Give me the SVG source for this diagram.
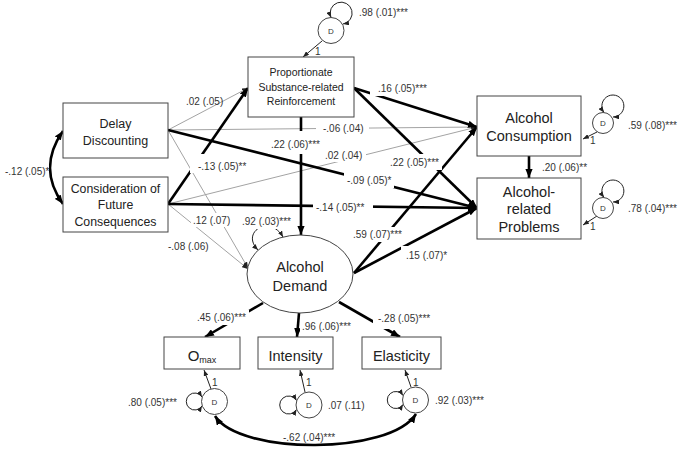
<svg xmlns="http://www.w3.org/2000/svg" width="683" height="449" viewBox="0 0 683 449">
<style>
.box{fill:#fff;stroke:#444;stroke-width:1}
.thk{fill:none;stroke:#000;stroke-width:2.6}
.thn{fill:none;stroke:#a3a3a3;stroke-width:1}
.ln{fill:none;stroke:#222;stroke-width:1}
.bg{fill:#fff}
.lbl{font-family:"Liberation Sans",Arial,sans-serif;font-size:10px;fill:#333}
.nt{font-family:"Liberation Sans",Arial,sans-serif;fill:#222;text-anchor:middle}
.d{font-family:"Liberation Sans",Arial,sans-serif;font-size:8px;fill:#333;text-anchor:middle}
</style>
<defs>
<marker id="ab" viewBox="0 0 10 8" refX="10" refY="4" markerWidth="9" markerHeight="7.2" markerUnits="userSpaceOnUse" orient="auto-start-reverse"><path d="M0,0L10,4L0,8z" fill="#000"/></marker>
<marker id="as" viewBox="0 0 10 8" refX="10" refY="4" markerWidth="6" markerHeight="4.8" markerUnits="userSpaceOnUse" orient="auto-start-reverse"><path d="M0,0L10,4L0,8z" fill="#222"/></marker>
</defs>
<rect width="683" height="449" fill="#fff"/>
<g id="connectors">
<path class="thn" d="M168,130 L248,88" marker-end="url(#as)"/>
<path class="thn" d="M168,130 L477,127" marker-end="url(#as)"/>
<path class="thn" d="M168,130 L248,268" marker-end="url(#as)"/>
<path class="thn" d="M168,204 L477,127" marker-end="url(#as)"/>
<path class="thn" d="M168,204 L248,269" marker-end="url(#as)"/>
<path class="thk" d="M168,204 L248,88" marker-end="url(#ab)"/>
<path class="thk" d="M168,130 L477,208" marker-end="url(#ab)"/>
<path class="thk" d="M168,204 L477,208" marker-end="url(#ab)"/>
<path class="thk" d="M354,88 L477,127" marker-end="url(#ab)"/>
<path class="thk" d="M354,88 L477,208" marker-end="url(#ab)"/>
<path class="thk" d="M301,117 L301,235" marker-end="url(#ab)"/>
<path class="thk" d="M354,273 L477,127" marker-end="url(#ab)"/>
<path class="thk" d="M354,273 L477,208" marker-end="url(#ab)"/>
<path class="thk" d="M529,156 L529,178" marker-end="url(#ab)"/>
<path class="thk" d="M263,303 L205,337" marker-end="url(#ab)"/>
<path class="thk" d="M299,313 L297,337" marker-end="url(#ab)"/>
<path class="thk" d="M339,302 L400,337" marker-end="url(#ab)"/>
<path class="thk" d="M63,131 Q37,168 63,204" marker-start="url(#ab)" marker-end="url(#ab)"/>
<path class="thk" d="M215,416 C240,455 390,455 416,414" marker-start="url(#ab)" marker-end="url(#ab)"/>
<path class="ln" d="M322,41 L303,57" marker-end="url(#as)"/>
<path class="ln" d="M597,132 L583,139" marker-end="url(#as)"/>
<path class="ln" d="M597,216 L583,225" marker-end="url(#as)"/>
<path class="ln" d="M211,389 L204,370" marker-end="url(#as)"/>
<path class="ln" d="M305,392 L300,370" marker-end="url(#as)"/>
<path class="ln" d="M411,387 L405,370" marker-end="url(#as)"/>
<path class="ln" d="M258,250 C240,232 270,214 283,237" marker-start="url(#as)" marker-end="url(#as)"/>
</g>
<g id="prop"><rect class="box" x="248" y="57" width="106" height="60"/>
<text class="nt" font-size="10.5" x="301" y="76">Proportionate</text>
<text class="nt" font-size="10.5" x="301" y="90.5">Substance-related</text>
<text class="nt" font-size="10.5" x="301" y="105">Reinforcement</text></g>
<g id="delay"><rect class="box" x="63" y="103" width="105" height="55"/>
<text class="nt" font-size="12.5" x="115.5" y="127.5">Delay</text>
<text class="nt" font-size="12.5" x="115.5" y="144.5">Discounting</text></g>
<g id="cfc"><rect class="box" x="63" y="177" width="105" height="55"/>
<text class="nt" font-size="12.3" x="115.5" y="192.5">Consideration of</text>
<text class="nt" font-size="12.3" x="115.5" y="209">Future</text>
<text class="nt" font-size="12.3" x="115.5" y="225.5">Consequences</text></g>
<g id="consumption"><rect class="box" x="477" y="96" width="104" height="60"/>
<text class="nt" font-size="14.5" x="529" y="122.5">Alcohol</text>
<text class="nt" font-size="14.5" x="529" y="141">Consumption</text></g>
<g id="problems"><rect class="box" x="477" y="178" width="104" height="61"/>
<text class="nt" font-size="14.5" x="529" y="196.5">Alcohol-</text>
<text class="nt" font-size="14.5" x="529" y="214">related</text>
<text class="nt" font-size="14.5" x="529" y="231.5">Problems</text></g>
<g id="demand"><ellipse cx="300" cy="274" rx="53" ry="39" fill="#fff" stroke="#444" stroke-width="1"/>
<text class="nt" font-size="14.5" x="300" y="272">Alcohol</text>
<text class="nt" font-size="14.5" x="300" y="290.5">Demand</text></g>
<g id="omax"><rect class="box" x="164" y="337" width="76" height="32"/>
<text class="nt" font-size="15" x="202" y="361">O<tspan font-size="9" dy="2">max</tspan></text></g>
<g id="intensity"><rect class="box" x="258" y="337" width="75" height="32"/>
<text class="nt" font-size="14.5" x="295.5" y="361">Intensity</text></g>
<g id="elasticity"><rect class="box" x="362" y="337" width="79" height="32"/>
<text class="nt" font-size="14.5" x="401.5" y="361">Elasticity</text></g>
<g id="d-prop"><path class="ln" d="M331,17.5 A11,11 0 1 1 343,24" marker-start="url(#as)" marker-end="url(#as)"/>
<circle cx="331" cy="30.5" r="13" fill="#fff" stroke="#444"/><text class="d" x="331" y="33.5">D</text></g>
<g id="d-cons"><path class="ln" d="M604,112.5 A11,11 0 1 1 613,117" marker-start="url(#as)" marker-end="url(#as)"/>
<circle cx="603" cy="123" r="10.5" fill="#fff" stroke="#444"/><text class="d" x="603" y="126">D</text></g>
<g id="d-prob"><path class="ln" d="M604,197.5 A11,11 0 1 1 613,202" marker-start="url(#as)" marker-end="url(#as)"/>
<circle cx="603" cy="208" r="10.5" fill="#fff" stroke="#444"/><text class="d" x="603" y="211">D</text></g>
<g id="d-omax"><path class="ln" d="M202,397 A8.5,8.5 0 1 0 202,406" marker-start="url(#as)" marker-end="url(#as)"/>
<circle cx="214.5" cy="401.5" r="13" fill="#fff" stroke="#444"/><text class="d" x="214.5" y="404.5">D</text></g>
<g id="d-int"><path class="ln" d="M296.5,400.5 A9,9 0 1 0 296.5,409.5" marker-start="url(#as)" marker-end="url(#as)"/>
<circle cx="309" cy="405" r="13" fill="#fff" stroke="#444"/><text class="d" x="309" y="408">D</text></g>
<g id="d-ela"><path class="ln" d="M403,395.5 A8.5,8.5 0 1 0 403,404.5" marker-start="url(#as)" marker-end="url(#as)"/>
<circle cx="415.5" cy="400" r="13" fill="#fff" stroke="#444"/><text class="d" x="415.5" y="403">D</text></g>
<g id="labels">
<rect class="bg" x="255" y="214" width="38" height="15"/>
<rect class="bg" x="190" y="154" width="58" height="19"/>
<rect class="bg" x="191" y="213" width="40" height="14"/>
<rect class="bg" x="268" y="131" width="55" height="23"/>
<rect class="bg" x="316" y="121" width="53" height="14"/>
<rect class="bg" x="320" y="148" width="46" height="14"/>
<rect class="bg" x="370" y="80" width="62" height="16"/>
<rect class="bg" x="386" y="154" width="56" height="16"/>
<rect class="bg" x="344" y="173" width="50" height="15"/>
<rect class="bg" x="313" y="200" width="60" height="15"/>
<rect class="bg" x="350" y="227" width="55" height="15"/>
<rect class="bg" x="401" y="246" width="48" height="16"/>
<rect class="bg" x="194" y="310" width="55" height="15"/>
<rect class="bg" x="300" y="319" width="53" height="14"/>
<rect class="bg" x="373" y="311" width="60" height="18"/>
<rect class="bg" x="3" y="164" width="46" height="15"/>
<text class="lbl" x="359" y="15.5">.98 (.01)***</text>
<text class="lbl" x="315" y="55">1</text>
<text class="lbl" x="186" y="104.5">.02 (.05)</text>
<text class="lbl" x="198" y="169.5">-.13 (.05)**</text>
<text class="lbl" x="193" y="223.5">.12 (.07)</text>
<text class="lbl" x="168" y="249.5">-.08 (.06)</text>
<text class="lbl" x="242" y="224.5">.92 (.03)***</text>
<text class="lbl" x="5" y="174.5">-.12 (.05)*</text>
<text class="lbl" x="271" y="147.5">.22 (.06)***</text>
<text class="lbl" x="323" y="131.5">-.06 (.04)</text>
<text class="lbl" x="325" y="158.5">.02 (.04)</text>
<text class="lbl" x="378" y="91.5">.16 (.05)***</text>
<text class="lbl" x="390" y="165.5">.22 (.05)***</text>
<text class="lbl" x="347" y="183.5">-.09 (.05)*</text>
<text class="lbl" x="316" y="210.5">-.14 (.05)**</text>
<text class="lbl" x="353" y="237.5">.59 (.07)***</text>
<text class="lbl" x="406" y="258.5">.15 (.07)*</text>
<text class="lbl" x="542" y="170.5">.20 (.06)**</text>
<text class="lbl" x="628" y="128.5">.59 (.08)***</text>
<text class="lbl" x="628" y="211.5">.78 (.04)***</text>
<text class="lbl" x="590" y="144">1</text>
<text class="lbl" x="590" y="230">1</text>
<text class="lbl" x="197" y="320.5">.45 (.06)***</text>
<text class="lbl" x="302" y="329.5">.96 (.06)***</text>
<text class="lbl" x="378" y="321.5">-.28 (.05)***</text>
<text class="lbl" x="128" y="405.5">.80 (.05)***</text>
<text class="lbl" x="328" y="408.5">.07 (.11)</text>
<text class="lbl" x="435" y="403.5">.92 (.03)***</text>
<text class="lbl" x="283" y="440.5">-.62 (.04)***</text>
<text class="lbl" x="212" y="385.5">1</text>
<text class="lbl" x="306" y="385.5">1</text>
<text class="lbl" x="413" y="385.5">1</text>
</g>
</svg>
